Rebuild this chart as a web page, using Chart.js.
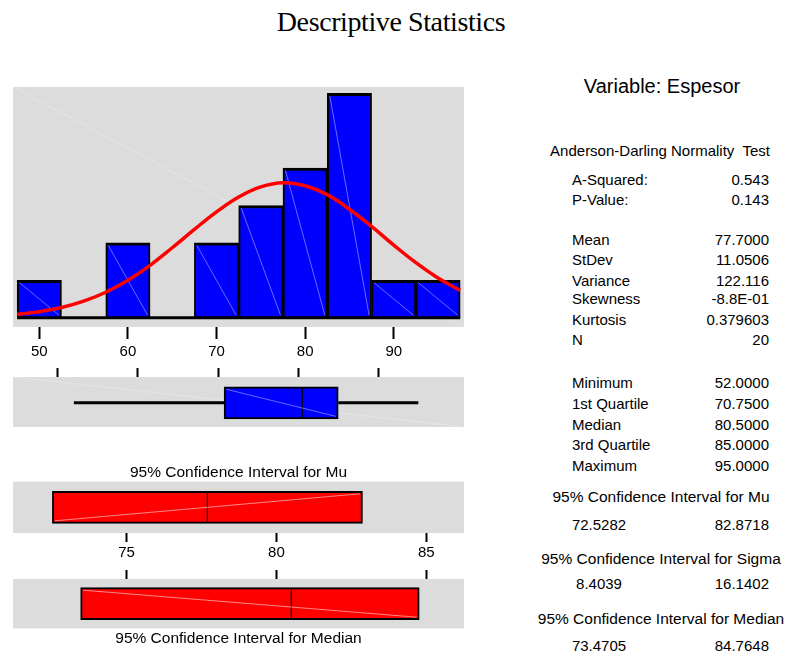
<!DOCTYPE html>
<html>
<head>
<meta charset="utf-8">
<title>Descriptive Statistics</title>
<script src="https://cdn.jsdelivr.net/npm/chart.js@4.4.1/dist/chart.umd.min.js"></script>
<style>
  html, body { margin: 0; padding: 0; background: #fff; }
  #page { position: relative; width: 785px; height: 658px; overflow: hidden;
          font-family: "Liberation Sans", Arial, sans-serif; color: #000; }
  #page canvas { position: absolute; left: 0; }
  .t { position: absolute; white-space: pre; font-size: 15px; line-height: 18px; }
  #mainTitle { position: absolute; left: 0; width: 782px; top: 8px; text-align: center;
               font-family: "Liberation Serif", "Times New Roman", serif; font-size: 28px;
               line-height: 28px; letter-spacing: -0.4px; }
</style>
</head>
<body>
<div id="page">
  <div id="mainTitle">Descriptive Statistics</div>
  <canvas id="hist" width="480" height="290" style="top:80px"></canvas>
  <canvas id="box" width="480" height="70" style="top:360px"></canvas>
  <canvas id="ciMu" width="480" height="108" style="top:460px"></canvas>
  <canvas id="ciMed" width="480" height="89" style="top:562px"></canvas>
</div>
<script>
// ---- data ----
const variableName = 'Espesor';
const binCenters = [50, 55, 60, 65, 70, 75, 80, 85, 90, 95];
const binCounts  = [1, 0, 2, 0, 2, 3, 4, 6, 1, 1];
const fitX = [47.5, 50, 52.5, 55, 57.5, 60, 62.5, 65, 67.5, 70, 72.5, 75, 77.5, 80, 82.5, 85, 87.5, 90, 92.5, 95, 97.5];
const fitY = [0.09, 0.16, 0.27, 0.44, 0.68, 1.00, 1.40, 1.87, 2.36, 2.83, 3.23, 3.50, 3.61, 3.53, 3.29, 2.90, 2.44, 1.94, 1.47, 1.06, 0.73];
const histTicks = [50, 60, 70, 80, 90];
const boxTicks  = [50, 60, 70, 80, 90];
const ciTicks   = [75, 80, 85];
const fiveNum   = [52, 70.75, 80.5, 85, 95];          // min, Q1, median, Q3, max
const ciMu      = [72.5282, 77.7, 82.8718];            // low, mean, high
const ciSigma   = [8.4039, 16.1402];
const ciMedian  = [73.4705, 80.5, 84.7648];            // low, median, high
const adLabels  = ['A-Squared:', 'P-Value:'];
const adValues  = ['0.543', '0.143'];
const momentLabels = ['Mean', 'StDev', 'Variance', 'Skewness', 'Kurtosis', 'N'];
const momentValues = [ciMu[1].toFixed(4), '11.0506', '122.116', '-8.8E-01', '0.379603', '20'];
const quantLabels  = ['Minimum', '1st Quartile', 'Median', '3rd Quartile', 'Maximum'];
const quantValues  = fiveNum.map(v => v.toFixed(4));

// ---- shared look ----
Chart.defaults.font.family = '"Liberation Sans", Arial, sans-serif';
Chart.defaults.color = '#000';
const FONT = '"Liberation Sans", Arial, sans-serif';

// grey panel behind each plot area
const panelPlugin = {
  id: 'panel',
  beforeDraw(chart, args, opts) {
    const a = chart.chartArea, ctx = chart.ctx;
    ctx.save();
    ctx.fillStyle = '#dcdcdc';
    ctx.fillRect(a.left, a.top, a.right - a.left, a.bottom - a.top);
    if (opts.diagonal) {
      ctx.strokeStyle = '#e6e6e6';
      ctx.lineWidth = 1;
      ctx.beginPath();
      ctx.moveTo(a.left, a.top);
      ctx.lineTo(a.right, a.bottom);
      ctx.stroke();
    }
    ctx.restore();
  }
};

// faint fill seams across the bars / boxes
function barRects(chart, metas) {
  const rects = [];
  metas.forEach(meta => {
    meta.data.forEach(el => {
      const p = el.getProps(['x', 'y', 'base', 'width', 'height', 'horizontal'], true);
      let l, r, t, b;
      if (p.horizontal) { l = Math.min(p.base, p.x); r = Math.max(p.base, p.x); t = p.y - p.height / 2; b = p.y + p.height / 2; }
      else { l = p.x - p.width / 2; r = p.x + p.width / 2; t = Math.min(p.y, p.base); b = Math.max(p.y, p.base); }
      if (b - t > 1) rects.push({ l, r, t, b });
    });
  });
  return rects;
}
function drawSeam(ctx, rc, dir, color) {
  const i = 2.5;
  ctx.save();
  ctx.strokeStyle = color;
  ctx.lineWidth = 1;
  ctx.beginPath();
  if (dir === 'up') { ctx.moveTo(rc.l + i, rc.b - i); ctx.lineTo(rc.r - i, rc.t + i); }
  else { ctx.moveTo(rc.l + i, rc.t + i); ctx.lineTo(rc.r - i, rc.b - i); }
  ctx.stroke();
  ctx.restore();
}
const seamPlugin = {
  id: 'seam',
  afterDatasetDraw(chart, args, opts) {
    if (opts.mode !== 'bars' || args.meta.type !== 'bar') return;
    barRects(chart, [args.meta]).forEach(rc => drawSeam(chart.ctx, rc, opts.dir, opts.color));
  },
  afterDatasetsDraw(chart, args, opts) {
    if (opts.mode !== 'box') return;
    const metas = chart.getSortedVisibleDatasetMetas().filter(m => m.type === 'bar');
    const rs = barRects(chart, metas);
    if (!rs.length) return;
    const u = { l: Math.min(...rs.map(r => r.l)), r: Math.max(...rs.map(r => r.r)),
                t: Math.min(...rs.map(r => r.t)), b: Math.max(...rs.map(r => r.b)) };
    drawSeam(chart.ctx, u, opts.dir, opts.color);
  }
};
Chart.register(panelPlugin, seamPlugin);

function fixedTicks(values) {
  return scale => { scale.ticks = values.map(v => ({ value: v })); };
}
function xAxis(min, max, ticks, position, tickLen, height, showLabels) {
  return {
    type: 'linear', position, min, max, offset: false,
    afterBuildTicks: fixedTicks(ticks),
    afterFit: s => { s.height = height; },
    grid: { offset: false, drawOnChartArea: false, drawTicks: true, tickLength: tickLen,
            tickWidth: 2, tickColor: '#000' },
    border: { display: false },
    ticks: { display: showLabels, color: '#000', padding: 3, maxRotation: 0, autoSkip: false,
             font: { family: FONT, size: 15 } }
  };
}
const baseOpts = { responsive: false, animation: false, events: [] };
const noLegend = { legend: { display: false }, tooltip: { enabled: false } };

// ---- histogram with fitted normal curve ----
new Chart(document.getElementById('hist'), {
  type: 'bar',
  data: {
    datasets: [
      { type: 'line', order: 0, data: fitX.map((x, i) => ({ x, y: fitY[i] })),
        borderColor: '#ff0000', borderWidth: 3.5, pointRadius: 0, tension: 0.4, fill: false },
      { type: 'line', order: 1,
        data: [{ x: binCenters[0] - 2.5, y: 0 }, { x: binCenters[binCenters.length - 1] + 2.5, y: 0 }],
        borderColor: '#000', borderWidth: 3, pointRadius: 0, fill: false },
      { type: 'bar', order: 2, data: binCenters.map((x, i) => ({ x, y: binCounts[i] })),
        backgroundColor: '#0000ff', borderColor: '#000',
        borderWidth: { left: 2, right: 2, top: 3, bottom: 0 }, borderSkipped: 'start',
        barPercentage: 1, categoryPercentage: 1 }
    ]
  },
  options: {
    ...baseOpts,
    layout: { padding: { left: 13, right: 16, top: 7, bottom: 3 } },
    plugins: { ...noLegend, panel: { diagonal: true },
               seam: { mode: 'bars', dir: 'down', color: 'rgba(150,150,255,0.7)' } },
    scales: {
      x: (() => { const ax = xAxis(47.03, 97.93, histTicks, 'bottom', 12, 40, true); ax.ticks.padding = 4; return ax; })(),
      y: { type: 'linear', display: false, min: -0.25, max: 6.17 }
    }
  }
});

// ---- box plot ----
new Chart(document.getElementById('box'), {
  type: 'bar',
  data: {
    datasets: [
      { type: 'line', data: [{ x: fiveNum[0], y: 0 }, { x: fiveNum[1], y: 0 }],
        borderColor: '#000', borderWidth: 3, pointRadius: 0 },
      { type: 'line', data: [{ x: fiveNum[3], y: 0 }, { x: fiveNum[4], y: 0 }],
        borderColor: '#000', borderWidth: 3, pointRadius: 0 },
      { type: 'bar', indexAxis: 'y', grouped: false, barThickness: 32,
        data: [{ y: 0, x: [fiveNum[1], fiveNum[2]] }],
        backgroundColor: '#0000ff', borderColor: '#000', borderSkipped: false,
        borderWidth: { left: 2, top: 2, bottom: 2, right: 1 } },
      { type: 'bar', indexAxis: 'y', grouped: false, barThickness: 32,
        data: [{ y: 0, x: [fiveNum[2], fiveNum[3]] }],
        backgroundColor: '#0000ff', borderColor: '#000', borderSkipped: false,
        borderWidth: { left: 1, top: 2, bottom: 2, right: 2 } }
    ]
  },
  options: {
    ...baseOpts,
    layout: { padding: { left: 13, right: 16, top: 8, bottom: 3 } },
    plugins: { ...noLegend, panel: { diagonal: true },
               seam: { mode: 'box', dir: 'down', color: 'rgba(150,150,255,0.7)' } },
    scales: {
      x: xAxis(44.4, 100.7, boxTicks, 'top', 9, 9, false),
      y: { type: 'linear', display: false, min: -0.934, max: 1.066 }
    }
  }
});

// ---- confidence interval boxes ----
function ciChart(id, ci, title, titlePos, axisPos, tickLen, axisHeight, showLabels, pad, titlePad, seamDir) {
  const ax = xAxis(71.215, 86.258, ciTicks, axisPos, tickLen, axisHeight, showLabels);
  ax.ticks.padding = 2;
  return new Chart(document.getElementById(id), {
    type: 'bar',
    data: {
      datasets: [
        { indexAxis: 'y', grouped: false, barThickness: 32, data: [{ y: 0, x: [ci[0], ci[1]] }],
          backgroundColor: '#ff0000', borderColor: '#000', borderSkipped: false,
          borderWidth: { left: 2, top: 2, bottom: 2, right: 1 } },
        { indexAxis: 'y', grouped: false, barThickness: 32, data: [{ y: 0, x: [ci[1], ci[2]] }],
          backgroundColor: '#ff0000', borderColor: '#000', borderSkipped: false,
          borderWidth: { left: 1, top: 2, bottom: 2, right: 2 } }
      ]
    },
    options: {
      ...baseOpts,
      layout: { padding: pad },
      plugins: {
        ...noLegend,
        panel: { diagonal: false },
        seam: { mode: 'box', dir: seamDir, color: 'rgba(255,170,170,0.8)' },
        title: { display: true, text: title, position: titlePos, color: '#000',
                 font: { family: FONT, size: 15.5, weight: 'normal' }, padding: titlePad }
      },
      scales: {
        x: ax,
        y: { type: 'linear', display: false, min: -1, max: 1 }
      }
    }
  });
}
ciChart('ciMu', ciMu, '95% Confidence Interval for Mu', 'top', 'bottom', 9, 35, true,
        { left: 13, right: 16, top: 0, bottom: 0 }, { top: 3, bottom: 0 }, 'up');
ciChart('ciMed', ciMedian, '95% Confidence Interval for Median', 'bottom', 'top', 9, 9, false,
        { left: 13, right: 16, top: 8, bottom: 0 }, { top: 1, bottom: 3 }, 'down');

// ---- statistics panel ----
const page = document.getElementById('page');
function put(text, x, cy, align, size) {
  const d = document.createElement('div');
  d.className = 't';
  d.textContent = text;
  const fs = size || 15;
  const lh = Math.round(fs * 1.2);
  d.style.fontSize = fs + 'px';
  d.style.lineHeight = lh + 'px';
  d.style.top = (cy - lh / 2) + 'px';
  if (align === 'left') d.style.left = x + 'px';
  else if (align === 'right') d.style.right = (785 - x) + 'px';
  else { d.style.left = x + 'px'; d.style.transform = 'translateX(-50%)'; }
  page.appendChild(d);
}
const colLabel = 572, colValue = 769, colLow = 599, colMid = 661;

put('Variable: ' + variableName, 662, 86, 'center', 20);
put('Anderson-Darling Normality  Test', 660, 151, 'center');

const adRows = [180, 200];
adLabels.forEach((s, i) => { put(s, colLabel, adRows[i], 'left'); put(adValues[i], colValue, adRows[i], 'right'); });

const momentRows = [240, 260, 280.5, 299, 320, 340];
momentLabels.forEach((s, i) => { put(s, colLabel, momentRows[i], 'left'); put(momentValues[i], colValue, momentRows[i], 'right'); });

const quantRows = [382.5, 404, 424.5, 445, 466];
quantLabels.forEach((s, i) => { put(s, colLabel, quantRows[i], 'left'); put(quantValues[i], colValue, quantRows[i], 'right'); });

put('95% Confidence Interval for Mu', colMid, 496.5, 'center', 15.5);
put(ciMu[0].toFixed(4), colLow, 525, 'center');
put(ciMu[2].toFixed(4), colValue, 525, 'right');

put('95% Confidence Interval for Sigma', colMid, 558, 'center', 15.5);
put(ciSigma[0].toFixed(4), colLow, 584, 'center');
put(ciSigma[1].toFixed(4), colValue, 584, 'right');

put('95% Confidence Interval for Median', colMid, 618, 'center', 15.5);
put(ciMedian[0].toFixed(4), colLow, 646, 'center');
put(ciMedian[2].toFixed(4), colValue, 646, 'right');
</script>
</body>
</html>
